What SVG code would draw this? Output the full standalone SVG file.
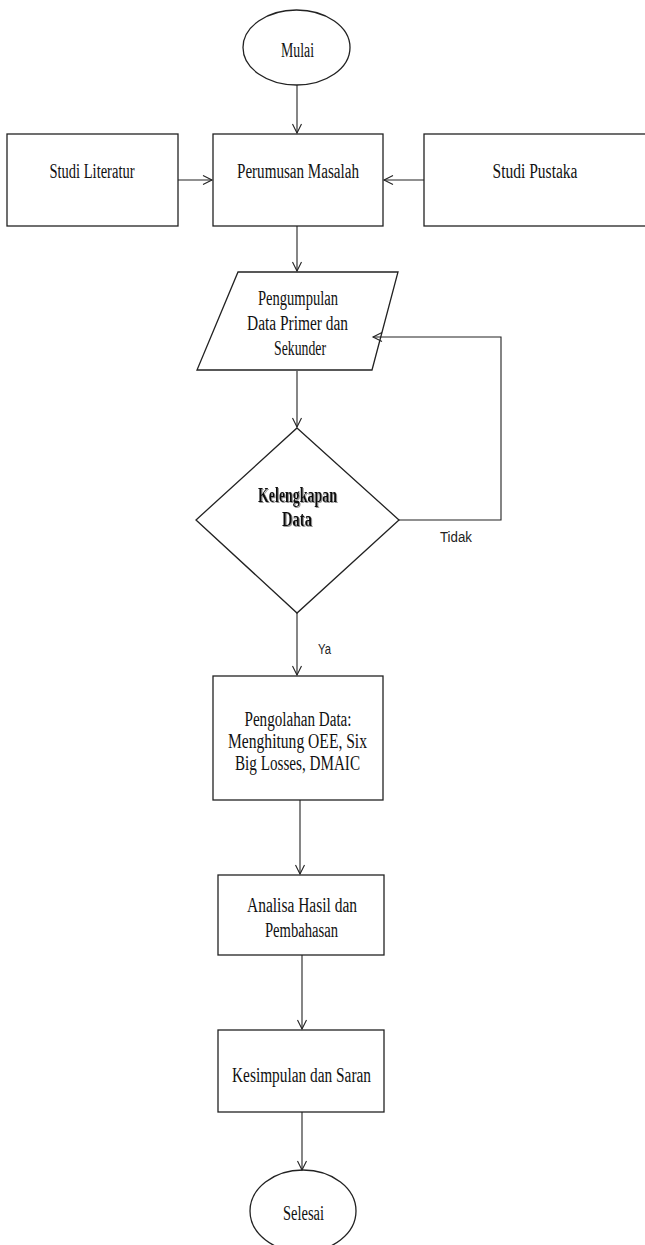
<svg xmlns="http://www.w3.org/2000/svg" width="645" height="1245" viewBox="0 0 645 1245">
<style>
.shape{fill:#fff;stroke:#222;stroke-width:1.3}
.conn{fill:none;stroke:#222;stroke-width:1.1}
.t{font-family:"Liberation Serif","Times New Roman",serif;font-size:20px;fill:#111;text-anchor:middle}
.tb{font-family:"Liberation Serif","Times New Roman",serif;font-size:20px;font-weight:bold;fill:#111;text-anchor:middle;filter:url(#sh)}
.s{font-family:"Liberation Sans",Arial,sans-serif;font-size:14px;fill:#222}
</style>
<defs>
<marker id="ah" markerUnits="userSpaceOnUse" markerWidth="12" markerHeight="12" viewBox="-10 -6 12 12" refX="0" refY="0" orient="auto">
<path d="M-9,-4.5 L0,0 L-9,4.5" fill="none" stroke="#222" stroke-width="1.1"/>
</marker>
<filter id="sh" x="-10%" y="-20%" width="130%" height="150%">
<feOffset in="SourceAlpha" dx="1.2" dy="1.2" result="o"/>
<feFlood flood-color="#999"/>
<feComposite in2="o" operator="in" result="s"/>
<feMerge><feMergeNode in="s"/><feMergeNode in="SourceGraphic"/></feMerge>
</filter>
</defs>
<rect width="645" height="1245" fill="#fff"/>

<g id="mulai">
<ellipse class="shape" cx="296.5" cy="47.5" rx="53.5" ry="37.5"/>
<text class="t" x="297.5" y="57" textLength="33" lengthAdjust="spacingAndGlyphs">Mulai</text>
</g>

<g id="studi-literatur">
<rect class="shape" x="7" y="134" width="171" height="92"/>
<text class="t" x="92" y="178" textLength="85" lengthAdjust="spacingAndGlyphs">Studi Literatur</text>
</g>

<g id="perumusan">
<rect class="shape" x="213" y="134" width="170" height="92"/>
<text class="t" x="298" y="178" textLength="122" lengthAdjust="spacingAndGlyphs">Perumusan  Masalah</text>
</g>

<g id="studi-pustaka">
<rect class="shape" x="424" y="134" width="230" height="92"/>
<text class="t" x="535" y="178" textLength="85" lengthAdjust="spacingAndGlyphs">Studi Pustaka</text>
</g>

<g id="pengumpulan">
<polygon class="shape" points="238,272 398,272 372,370 197,370"/>
<text class="t" x="298" y="305" textLength="80" lengthAdjust="spacingAndGlyphs">Pengumpulan</text>
<text class="t" x="297.5" y="330" textLength="101" lengthAdjust="spacingAndGlyphs">Data Primer  dan</text>
<text class="t" x="300" y="355" textLength="52" lengthAdjust="spacingAndGlyphs">Sekunder</text>
</g>

<g id="kelengkapan">
<polygon class="shape" points="297,428 399,520 297,613 196,520"/>
<text class="tb" x="297.5" y="502" textLength="79" lengthAdjust="spacingAndGlyphs">Kelengkapan</text>
<text class="tb" x="297" y="526" textLength="30" lengthAdjust="spacingAndGlyphs">Data</text>
</g>

<g id="pengolahan">
<rect class="shape" x="213" y="676" width="170" height="124"/>
<text class="t" x="298" y="726" textLength="107" lengthAdjust="spacingAndGlyphs">Pengolahan  Data:</text>
<text class="t" x="297.5" y="748" textLength="139" lengthAdjust="spacingAndGlyphs">Menghitung  OEE, Six</text>
<text class="t" x="297.5" y="770" textLength="125" lengthAdjust="spacingAndGlyphs">Big Losses, DMAIC</text>
</g>

<g id="analisa">
<rect class="shape" x="218" y="875" width="166" height="80"/>
<text class="t" x="302" y="912" textLength="110" lengthAdjust="spacingAndGlyphs">Analisa  Hasil dan</text>
<text class="t" x="301.5" y="937" textLength="73" lengthAdjust="spacingAndGlyphs">Pembahasan</text>
</g>

<g id="kesimpulan">
<rect class="shape" x="218" y="1030" width="166" height="82"/>
<text class="t" x="301.5" y="1082" textLength="139" lengthAdjust="spacingAndGlyphs">Kesimpulan  dan Saran</text>
</g>

<g id="selesai">
<ellipse class="shape" cx="303" cy="1211" rx="53" ry="41"/>
<text class="t" x="303.5" y="1220" textLength="41" lengthAdjust="spacingAndGlyphs">Selesai</text>
</g>

<g id="connectors">
<line class="conn" x1="297" y1="85" x2="297" y2="133" marker-end="url(#ah)"/>
<line class="conn" x1="178" y1="180" x2="212" y2="180" marker-end="url(#ah)"/>
<line class="conn" x1="424" y1="180" x2="384" y2="180" marker-end="url(#ah)"/>
<line class="conn" x1="297" y1="226" x2="297" y2="271" marker-end="url(#ah)"/>
<line class="conn" x1="297" y1="371" x2="297" y2="427" marker-end="url(#ah)"/>
<polyline class="conn" points="399,520 501,520 501,337 373,337" marker-end="url(#ah)"/>
<line class="conn" x1="297" y1="613" x2="297" y2="675" marker-end="url(#ah)"/>
<line class="conn" x1="300" y1="800" x2="300" y2="874" marker-end="url(#ah)"/>
<line class="conn" x1="302" y1="955" x2="302" y2="1029" marker-end="url(#ah)"/>
<line class="conn" x1="302" y1="1112" x2="302" y2="1170" marker-end="url(#ah)"/>
<text class="s" x="440" y="542" textLength="32" lengthAdjust="spacingAndGlyphs">Tidak</text>
<text class="s" x="318" y="654" textLength="13" lengthAdjust="spacingAndGlyphs">Ya</text>
</g>
</svg>
